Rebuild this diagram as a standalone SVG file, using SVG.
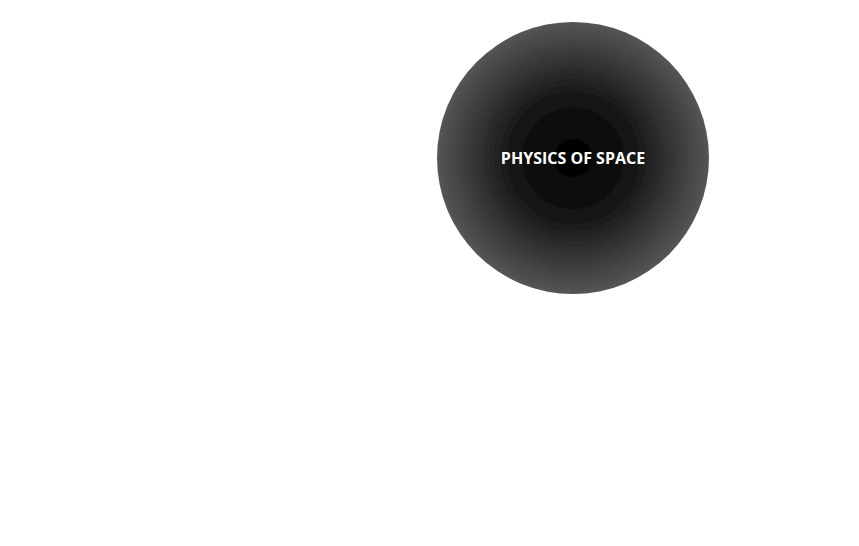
<svg xmlns="http://www.w3.org/2000/svg" width="859" height="546" viewBox="0 0 859 546">
<style>
.lbl{font-family:"Open Sans","Liberation Sans",sans-serif;font-weight:bold;font-size:16px;fill:#fff;text-anchor:middle}
</style>
<defs>
<radialGradient id="g" cx="0.5" cy="0.5" r="0.5">
<stop offset="0" stop-color="#000"/>
<stop offset="0.45" stop-color="#151515"/>
<stop offset="1" stop-color="#555"/>
</radialGradient>
<filter id="noise" x="0" y="0" width="1" height="1">
<feTurbulence type="fractalNoise" baseFrequency="1.2" numOctaves="2" seed="3" result="t"/>
<feColorMatrix in="t" type="matrix" values="0 0 0 0 0.5  0 0 0 0 0.5  0 0 0 0 0.5  0 0 0 1.4 -0.55" result="n"/>
<feComposite in="n" in2="SourceGraphic" operator="in" result="nc"/>
<feBlend in="nc" in2="SourceGraphic" mode="overlay"/>
</filter>
</defs>
<rect width="859" height="546" fill="#fff"/>
<g id="node-physics">
<circle cx="573" cy="158" r="136" fill="url(#g)" filter="url(#noise)"/>
<text class="lbl" x="573" y="164">PHYSICS OF SPACE</text>
</g>
<g id="connectors"/>
</svg>
